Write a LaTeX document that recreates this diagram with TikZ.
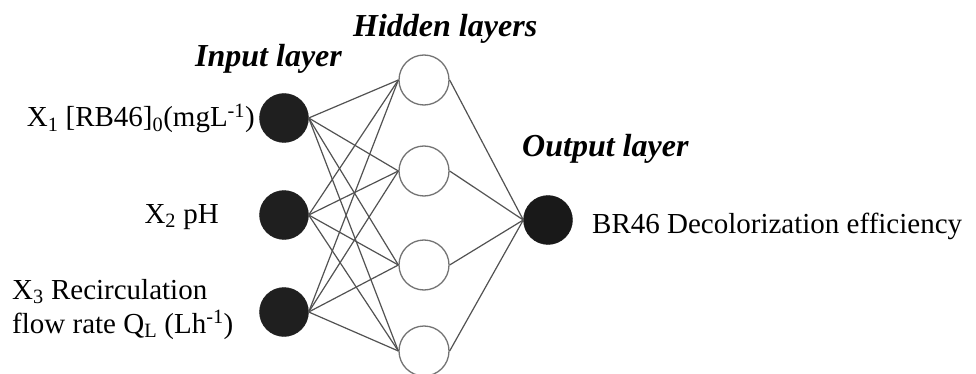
\documentclass[tikz,border=0pt]{standalone}
\usepackage{fontspec}
\setmainfont{Liberation Serif}
\tikzset{
  inp/.style={circle, fill=black!88, draw=black!88, minimum size=49pt, inner sep=0pt},
  hid/.style={circle, fill=white, draw=black!55, line width=1.3pt, minimum size=50pt, inner sep=0pt},
  outn/.style={circle, fill=black!90, draw=black!90, minimum size=49pt, inner sep=0pt},
  conn/.style={draw=black!68, line width=1.2pt},
  ttl/.style={font=\fontsize{32}{36}\selectfont\bfseries\itshape, inner sep=0pt},
  lbl/.style={font=\fontsize{29}{34}\selectfont, inner sep=0pt}
}
\begin{document}
\begin{tikzpicture}[x=1pt,y=-1pt]
\useasboundingbox (0,0) rectangle (976,374);
\clip (0,0) rectangle (976,374);
\fill[white] (0,0) rectangle (976,374);
% nodes
\node[inp] (i1) at (284,118) {};
\node[inp] (i2) at (284,215) {};
\node[inp] (i3) at (284,312) {};
\node[hid] (h1) at (424,80) {};
\node[hid] (h2) at (424,171) {};
\node[hid] (h3) at (424,265) {};
\node[hid] (h4) at (424,351) {};
\node[outn] (o) at (548,220) {};
% connectors
\foreach \i in {1,2,3}{
  \foreach \h in {1,2,3,4}{
    \draw[conn] (i\i.east) -- (h\h.west);
  }
}
\foreach \h in {1,2,3,4}{
  \draw[conn] (h\h.east) -- (o.west);
}
% titles
\node[ttl, anchor=base west] (tin) at (195,67) {Input layer};
\node[ttl, anchor=base west] (thid) at (353,37) {Hidden layers};
\node[ttl, anchor=base west] (tout) at (522,157) {Output layer};
% labels
\node[lbl, anchor=base east] (l1) at (255,127) {X\textsubscript{1} [RB46]\textsubscript{0}(mgL\textsuperscript{-1})};
\node[lbl, anchor=base east] (l2) at (219,223) {X\textsubscript{2} pH};
\node[lbl, anchor=base west] (l3a) at (12,299) {X\textsubscript{3} Recirculation};
\node[lbl, anchor=base west] (l3b) at (12,333) {flow rate Q\textsubscript{L} (Lh\textsuperscript{-1})};
\node[lbl, anchor=base west] (lo) at (592,233) {BR46 Decolorization efficiency};
\end{tikzpicture}
\end{document}
